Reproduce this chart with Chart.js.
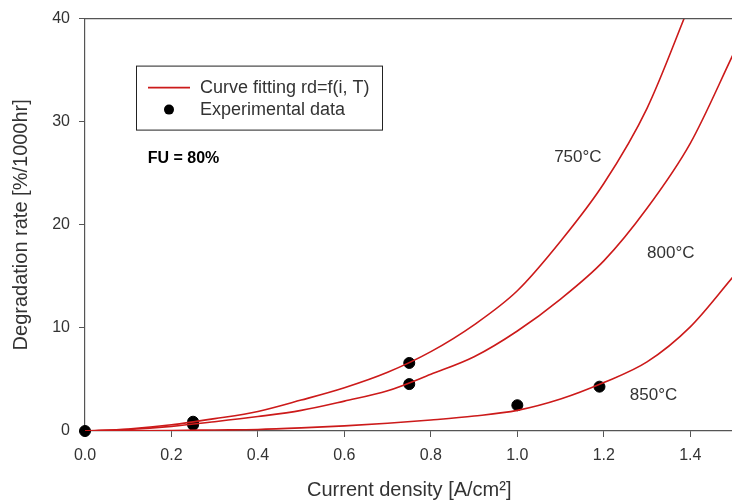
<!DOCTYPE html>
<html>
<head>
<meta charset="utf-8">
<script src="https://cdn.jsdelivr.net/npm/chart.js@4"></script>
<style>
  html, body { margin: 0; padding: 0; background: #fff; overflow: hidden; }
  #wrap { width: 740px; height: 502px; }
</style>
</head>
<body>
<div id="wrap"><canvas id="myChart" width="740" height="502"></canvas></div>
<script>
// current density grid [A/cm2]
const currentGrid = [0, 0.1, 0.2, 0.3, 0.4, 0.5, 0.6, 0.7, 0.8, 0.9, 1.0, 1.1, 1.2, 1.3, 1.4, 1.5];

// fitted degradation rate [%/1000hr]
const fit750 = [0, 0.2, 0.6, 1.2, 1.9, 3.0, 4.2, 5.7, 7.7, 10.3, 13.6, 18.4, 24.0, 31.3, 41.5, null];
const fit800 = [0, 0.15, 0.45, 0.9, 1.4, 2.0, 2.9, 3.9, 5.5, 7.2, 9.7, 12.8, 16.5, 21.6, 27.9, 36.6];
const fit850 = [0, 0.02, 0.05, 0.1, 0.15, 0.3, 0.5, 0.75, 1.07, 1.45, 2.0, 3.1, 4.7, 6.7, 10.1, 15.0];

// experimental points
const expCurrent = [0, 0.25, 0.25, 0.75, 0.75, 1.0, 1.19];
const expRate = [0, 0.9, 0.6, 6.6, 4.55, 2.5, 4.3];

const xTicks = [0, 0.2, 0.4, 0.6, 0.8, 1.0, 1.2, 1.4];
const yTicks = [0, 10, 20, 30, 40];

// curve labels, placed in data coordinates
const curveLabels = [
    { text: '750°C', x: 1.14, y: 26.5 },
    { text: '800°C', x: 1.355, y: 17.2 },
    { text: '850°C', x: 1.315, y: 3.5 },
];

const red = '#cc1a1a';
const axisColor = '#555';
const textColor = '#333';
const font = 'Liberation Sans, Arial, sans-serif';

function pts(xs, ys) {
    return xs.map((x, i) => ({ x: x, y: ys[i] })).filter(p => p.y !== null);
}

function curve(values) {
    return {
        type: 'line',
        label: 'Curve fitting rd=f(i, T)',
        data: pts(currentGrid, values),
        borderColor: red,
        borderWidth: 1.6,
        pointRadius: 0,
        cubicInterpolationMode: 'monotone',
        fill: false,
    };
}

const data = {
    datasets: [
        curve(fit750),
        curve(fit800),
        curve(fit850),
        {
            type: 'scatter',
            label: 'Experimental data',
            data: pts(expCurrent, expRate),
            backgroundColor: '#000',
            borderColor: '#000',
            pointRadius: 5.5,
            clip: false,
        },
    ]
};

const decorations = {
    id: 'decorations',
    afterDatasetsDraw(chart) {
        const ctx = chart.ctx;
        const a = chart.chartArea;
        const xs = chart.scales.x;
        const ys = chart.scales.y;
        ctx.save();
        // top frame line
        ctx.strokeStyle = axisColor;
        ctx.lineWidth = 1.2;
        ctx.beginPath();
        ctx.moveTo(a.left, a.top);
        ctx.lineTo(a.right, a.top);
        ctx.stroke();

        // legend box
        const bx = a.left + 51, by = a.top + 47;
        ctx.strokeStyle = '#222';
        ctx.lineWidth = 1;
        ctx.strokeRect(bx + 0.5, by + 0.5, 246, 64);
        ctx.strokeStyle = red;
        ctx.lineWidth = 1.6;
        ctx.beginPath();
        ctx.moveTo(bx + 12, by + 22);
        ctx.lineTo(bx + 54, by + 22);
        ctx.stroke();
        ctx.fillStyle = '#000';
        ctx.beginPath();
        ctx.arc(bx + 33, by + 44, 5, 0, Math.PI * 2);
        ctx.fill();
        ctx.fillStyle = textColor;
        ctx.font = '18px ' + font;
        ctx.textBaseline = 'middle';
        ctx.textAlign = 'left';
        ctx.fillText('Curve fitting rd=f(i, T)', bx + 64, by + 22);
        ctx.fillText('Experimental data', bx + 64, by + 44);

        // FU note
        ctx.fillStyle = '#000';
        ctx.font = 'bold 16px ' + font;
        ctx.fillText('FU = 80%', xs.getPixelForValue(0.145), ys.getPixelForValue(26.4));

        // temperature labels
        ctx.fillStyle = textColor;
        ctx.font = '17px ' + font;
        ctx.textAlign = 'center';
        curveLabels.forEach(l => {
            ctx.fillText(l.text, xs.getPixelForValue(l.x), ys.getPixelForValue(l.y));
        });
        ctx.restore();
    }
};

const config = {
    data: data,
    options: {
        responsive: false,
        animation: false,
        layout: { padding: { top: 18, right: 6, left: 0, bottom: 0 } },
        plugins: { legend: { display: false }, tooltip: { enabled: false } },
        scales: {
            x: {
                type: 'linear',
                min: 0,
                max: 1.5,
                afterBuildTicks: s => { s.ticks = xTicks.map(v => ({ value: v })); },
                afterFit: s => { s.height = 71; },
                grid: { drawOnChartArea: false, drawTicks: true, tickLength: 6, tickColor: axisColor },
                border: { color: axisColor, width: 1.2 },
                ticks: {
                    color: textColor,
                    font: { family: font, size: 16 },
                    padding: 9,
                    maxRotation: 0,
                    callback: v => v.toFixed(1),
                },
                title: {
                    display: true,
                    text: 'Current density [A/cm²]',
                    color: textColor,
                    font: { family: font, size: 20 },
                    padding: { top: 0, bottom: 0 },
                },
            },
            y: {
                type: 'linear',
                min: 0,
                max: 40,
                afterBuildTicks: s => { s.ticks = yTicks.map(v => ({ value: v })); },
                afterFit: s => { s.width = 85; },
                grid: { drawOnChartArea: false, drawTicks: true, tickLength: 6, tickColor: axisColor },
                border: { color: axisColor, width: 1.2 },
                ticks: {
                    color: textColor,
                    font: { family: font, size: 16 },
                    padding: 9,
                },
                title: {
                    display: true,
                    text: 'Degradation rate [%/1000hr]',
                    color: textColor,
                    font: { family: font, size: 20 },
                    padding: { top: 9, bottom: 0 },
                },
            },
        },
    },
    plugins: [decorations],
};

const myChart = new Chart(
    document.getElementById('myChart'),
    config
);
</script>
</body>
</html>
